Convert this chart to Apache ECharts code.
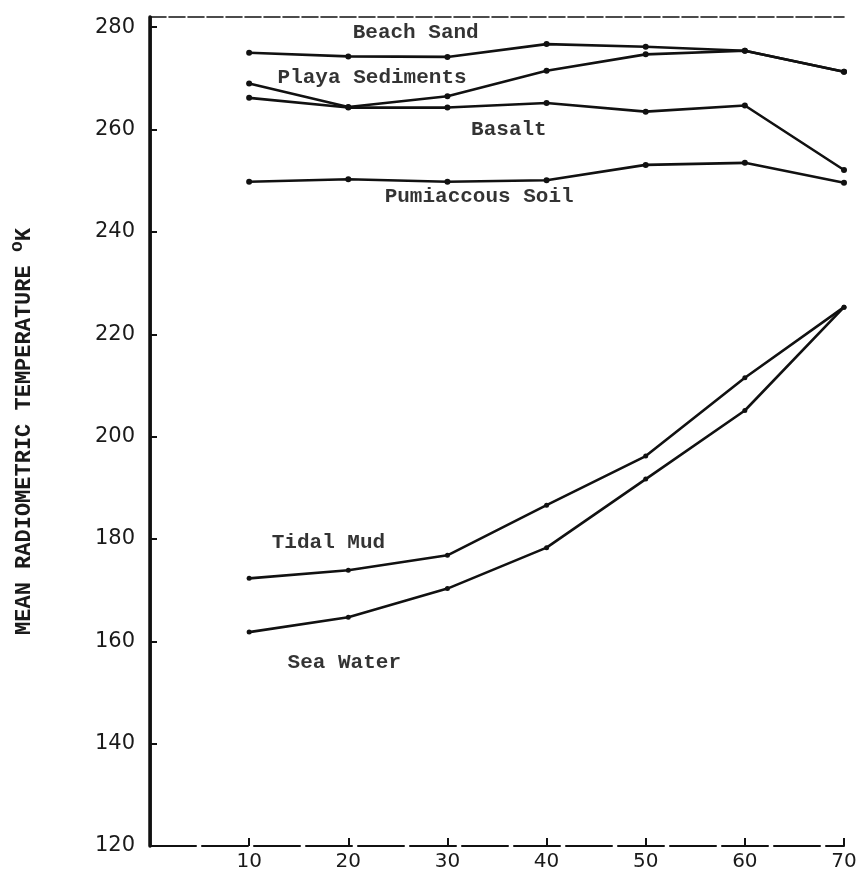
<!DOCTYPE html>
<html>
<head>
<meta charset="utf-8">
<script src="https://cdn.jsdelivr.net/npm/echarts@6/dist/echarts.min.js"></script>
<style>
    html, body { margin: 0; background: #fff; }
    #chart { width: 862px; height: 872px; }
</style>
</head>
<body>
<div id="chart"></div>
<script>
// angle values along the bottom axis
let angles = [10, 20, 30, 40, 50, 60, 70];
let xTicks = [10, 20, 30, 40, 50, 60, 70];
let yTicks = [120, 140, 160, 180, 200, 220, 240, 260, 280];

// mean radiometric temperature, deg K
let beachSand = [275.0, 274.3, 274.2, 276.7, 276.2, 275.4, 271.3];
let playaSediments = [269.0, 264.4, 266.5, 271.5, 274.7, 275.4, 271.3];
let basalt = [266.2, 264.3, 264.3, 265.2, 263.5, 264.7, 252.1];
let pumiceousSoil = [249.8, 250.3, 249.8, 250.1, 253.1, 253.5, 249.6];
let tidalMud = [172.3, 173.9, 176.8, 186.6, 196.2, 211.5, 225.3];
let seaWater = [161.8, 164.7, 170.3, 178.3, 191.7, 205.1, 225.3];

// curve captions, placed in data coordinates
let captionText = ['Beach Sand', 'Playa Sediments', 'Basalt', 'Pumiaccous Soil', 'Tidal Mud', 'Sea Water'];
let captionX = [26.8, 22.4, 36.2, 33.2, 18.0, 19.6];
let captionY = [279.0, 270.2, 259.9, 246.8, 179.3, 155.9];

let ink = '#111';
let typeFont = '"Liberation Mono", "DejaVu Sans Mono", monospace';
let numFont = '"DejaVu Sans", sans-serif';

function pairs(ys) {
    return angles.map(function (a, i) {
        return [a, ys[i]];
    });
}

function makeLine(name, ys, size) {
    return {
        type: 'line',
        name: name,
        data: pairs(ys),
        symbol: 'circle',
        symbolSize: size,
        showSymbol: true,
        lineStyle: {color: ink, width: 2.6},
        itemStyle: {color: ink},
        z: 3
    };
}

let chart = echarts.init(document.getElementById('chart'));

let option = {
    backgroundColor: '#fff',
    animation: false,
    grid: {left: 144, right: 18, top: 17, bottom: 25},
    xAxis: [{
        type: 'value',
        min: 0,
        max: 70,
        interval: 10,
        axisLine: {lineStyle: {color: ink, width: 2, type: [46, 6]}},
        axisTick: {inside: true, length: 8, customValues: xTicks, lineStyle: {color: ink, width: 2}},
        axisLabel: {
            customValues: xTicks,
            margin: 6,
            color: '#1a1a1a',
            fontFamily: numFont,
            fontSize: 20
        },
        splitLine: {show: false}
    }, {
        type: 'value',
        position: 'top',
        min: 0,
        max: 70,
        axisLine: {show: true, lineStyle: {color: ink, width: 1.6, type: [16, 3]}},
        axisTick: {show: false},
        axisLabel: {show: false},
        splitLine: {show: false}
    }],
    yAxis: [{
        type: 'value',
        min: 120,
        max: 282,
        name: 'MEAN RADIOMETRIC TEMPERATURE {sup|o}K',
        nameLocation: 'middle',
        nameGap: 110,
        nameRotate: 90,
        nameTextStyle: {
            color: '#1a1a1a',
            fontFamily: typeFont,
            fontSize: 22,
            fontWeight: 'bold',
            rich: {
                sup: {fontFamily: typeFont, fontSize: 18, fontWeight: 'bold', color: '#1a1a1a', padding: [0, 0, 14, 0]}
            }
        },
        axisLine: {show: true, lineStyle: {color: ink, width: 3.5}},
        axisTick: {inside: true, length: 7, customValues: yTicks, lineStyle: {color: ink, width: 2}},
        axisLabel: {customValues: yTicks, margin: 15, color: '#1a1a1a', fontFamily: numFont, fontSize: 21},
        splitLine: {show: false}
    }, {
        type: 'value',
        position: 'right',
        min: 120,
        max: 282,
        axisLine: {show: true, lineStyle: {color: ink, width: 2.5}},
        axisTick: {show: false},
        axisLabel: {show: false},
        splitLine: {show: false}
    }],
    series: [
        makeLine('Beach Sand', beachSand, 6),
        makeLine('Playa Sediments', playaSediments, 6),
        makeLine('Basalt', basalt, 6),
        makeLine('Pumiceous Soil', pumiceousSoil, 6),
        makeLine('Tidal Mud', tidalMud, 5),
        makeLine('Sea Water', seaWater, 5),
        {
            type: 'scatter',
            name: 'captions',
            symbolSize: 0,
            silent: true,
            data: captionText.map(function (t, i) {
                return {name: t, value: [captionX[i], captionY[i]]};
            }),
            label: {
                show: true,
                position: 'inside',
                formatter: '{b}',
                color: '#000',
                fontFamily: typeFont,
                fontSize: 21,
                fontWeight: 'bold'
            },
            z: 5
        }
    ]
};

chart.setOption(option);
</script>
</body>
</html>
